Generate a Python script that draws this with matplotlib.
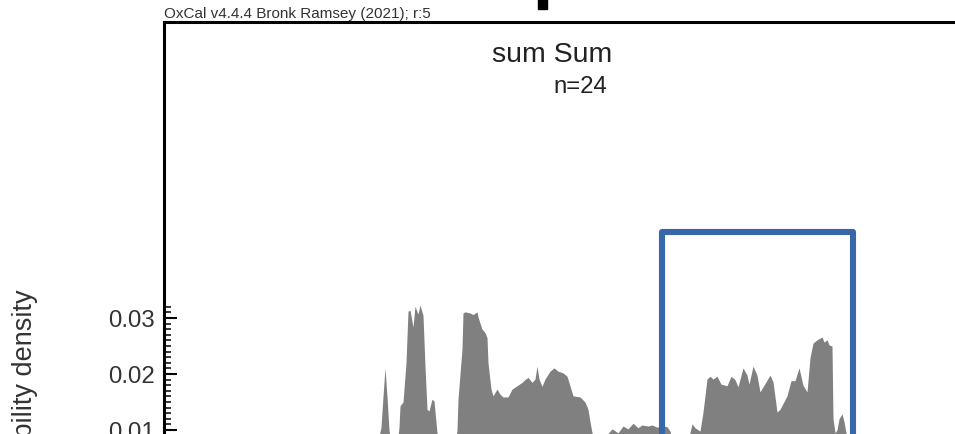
import matplotlib
matplotlib.use("Agg")
import matplotlib.pyplot as plt
from matplotlib.patches import Rectangle
from matplotlib.ticker import FixedLocator, MultipleLocator
import numpy as np

plt.rcParams["font.family"] = ["Liberation Sans", "DejaVu Sans"]

# summed probability; x is an arbitrary date scale
cal_x = [
    0, 26, 86, 136, 196, 214, 217, 219, 221, 223, 225, 228, 233, 235,
    236, 239, 242, 244, 246, 249, 251, 254, 256, 259, 261, 263, 265, 268,
    270, 272, 273, 276, 286, 291, 293, 294, 298, 299, 301, 306, 309, 313,
    314, 318, 321, 323, 324, 327, 329, 333, 336, 339, 344, 348, 353, 358,
    361, 364, 368, 371, 373, 375, 378, 381, 386, 390, 394, 399, 403, 406,
    409, 416, 421, 424, 426, 428, 436, 442, 448, 454, 459, 464, 469, 474,
    478, 484, 488, 493, 498, 503, 506, 508, 516, 524, 528, 531, 536, 539,
    543, 546, 549, 553, 557, 563, 567, 571, 574, 579, 583, 585, 589, 593,
    596, 600, 606, 609, 613, 616, 623, 627, 631, 635, 639, 643, 646, 649,
    653, 658, 660, 663, 665, 668, 669, 671, 673, 675, 678, 680, 682, 686,
    706, 756, 836,
]
density = [
    0.000, 0.004, 0.006, 0.005, 0.007, 0.008, 0.0105, 0.016, 0.0211, 0.016,
    0.0100, 0.006, 0.007, 0.0105, 0.0143, 0.0150, 0.0220, 0.0312, 0.0314,
    0.0284, 0.0321, 0.0307, 0.0323, 0.0305, 0.0214, 0.0137, 0.0134, 0.0155,
    0.0152, 0.0114, 0.0095, 0.006, 0.005, 0.007, 0.0100, 0.0155, 0.0245,
    0.0309, 0.0311, 0.0309, 0.0306, 0.0311, 0.0302, 0.0280, 0.0274, 0.0265,
    0.0220, 0.0173, 0.0161, 0.0173, 0.0164, 0.0159, 0.0159, 0.0173, 0.0179,
    0.0185, 0.0190, 0.0194, 0.0185, 0.0191, 0.0214, 0.0191, 0.0178, 0.0191,
    0.0205, 0.0211, 0.0205, 0.0202, 0.0196, 0.0179, 0.0161, 0.0159, 0.0150,
    0.0137, 0.0115, 0.0095, 0.007, 0.0090, 0.0102, 0.0095, 0.0107, 0.0102,
    0.0112, 0.0104, 0.0109, 0.0107, 0.0109, 0.0105, 0.0107, 0.0106, 0.0098,
    0.0085, 0.006, 0.008, 0.0111, 0.0104, 0.0098, 0.0132, 0.0191, 0.0196,
    0.0191, 0.0196, 0.0182, 0.0179, 0.0196, 0.0190, 0.0177, 0.0211, 0.0198,
    0.0182, 0.0214, 0.0198, 0.0168, 0.0180, 0.0198, 0.0186, 0.0132, 0.0137,
    0.0161, 0.0188, 0.0188, 0.0211, 0.0180, 0.0168, 0.0229, 0.0255, 0.0261,
    0.0266, 0.0257, 0.0261, 0.0252, 0.0250, 0.0120, 0.0095, 0.0100, 0.0120,
    0.0129, 0.0115, 0.0095, 0.007, 0.005, 0.003, 0.001,
]
y_ticks = [0.01, 0.02, 0.03]
y_tick_labels = ["0.01", "0.02", "0.03"]

W, H = 955, 435
fig = plt.figure(figsize=(W / 100, H / 100), dpi=100)
# frame is cropped: bottom and right edges fall outside the picture
ax = fig.add_axes([164 / W, (435 - 487) / H, 836 / W, 464 / H])
ax.set_xlim(0, 836)
ax.set_ylim(0, 464 / 5600)

ax.fill_between(cal_x, density, color="#808080", lw=0)

# highlight box
ax.add_patch(Rectangle((498, -0.01), 191, 0.0554, fill=False,
                       edgecolor="#3767a8", lw=4.4, joinstyle="round"))

for side in ["left", "top", "right", "bottom"]:
    ax.spines[side].set_linewidth(2.2)
ax.set_xticks([])
ax.set_yticks(y_ticks)
ax.set_yticklabels(y_tick_labels)
ax.yaxis.set_minor_locator(FixedLocator([v / 1000 for v in range(0, 33) if v % 10]))
ax.tick_params(axis="y", which="major", direction="in", length=9.5,
               width=1.5, pad=6.5, labelsize=17.3, labelcolor="#333333")
ax.tick_params(axis="y", which="minor", direction="in", length=5, width=1.1)

fig.text(25 / W, 1 - 400 / H, "Probability density", rotation=90,
         ha="center", va="center", fontsize=19.5, color="#333333")
fig.text(164 / W, 1 - 18 / H, "OxCal v4.4.4 Bronk Ramsey (2021); r:5",
         ha="left", va="baseline", fontsize=11, color="#333333")
fig.text(492 / W, 1 - 62 / H, "sum Sum", ha="left", va="baseline",
         fontsize=20.5, color="#222222")
fig.text(553 / W, 1 - 93 / H, "n=24", ha="left", va="baseline",
         fontsize=17.3, color="#222222")

# cut-off dark mark above the frame
fig.patches.append(Rectangle((538 / W, 1 - 10 / H), 9 / W, 10 / H,
                             transform=fig.transFigure, color="black"))

fig.savefig("out.png", dpi=100)
